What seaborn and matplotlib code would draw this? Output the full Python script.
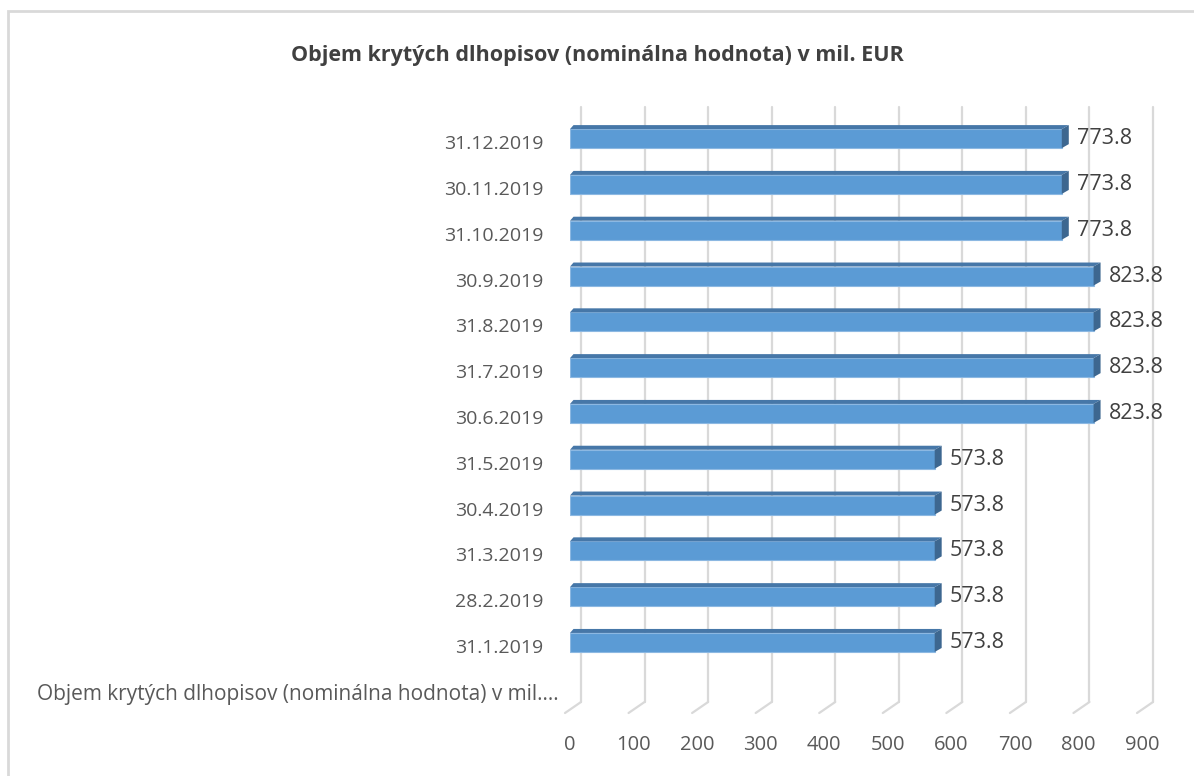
import numpy as np
import pandas as pd
import matplotlib
matplotlib.use('Agg')
import matplotlib.pyplot as plt
import matplotlib.transforms as mtransforms
from matplotlib.patches import Polygon, Rectangle
import seaborn as sns

sns.set_theme(style='white')
plt.rcParams['font.family'] = ['Open Sans', 'DejaVu Sans']

# dáta (mesačné stavy, v mil. EUR)
dates = ['31.1.2019', '28.2.2019', '31.3.2019', '30.4.2019', '31.5.2019', '30.6.2019',
         '31.7.2019', '31.8.2019', '30.9.2019', '31.10.2019', '30.11.2019', '31.12.2019']
values = [573.8, 573.8, 573.8, 573.8, 573.8, 823.8, 823.8, 823.8, 823.8, 773.8, 773.8, 773.8]
series_name = 'Objem krytých dlhopisov (nominálna hodnota) v mil.\u2026'
title = 'Objem krytých dlhopisov (nominálna hodnota) v mil. EUR'
x_ticks = [0, 100, 200, 300, 400, 500, 600, 700, 800, 900]

df = pd.DataFrame({'datum': dates, 'objem': values})
order = dates[::-1] + [series_name]   # Excel kreslí prvú kategóriu dole

fig = plt.figure(figsize=(11.94, 7.76), dpi=100)
ax = fig.add_axes([570 / 1194, 1 - 702 / 776, 572 / 1194, 595 / 776])

sns.barplot(data=df, x='objem', y='datum', order=order, orient='h',
            color='#5b9bd5', width=0.415, saturation=1, ax=ax,
            edgecolor='#8cb8e2', linewidth=0.8, zorder=3)

ax.set_xlim(0, 900)
ax.set_ylim(12.30, -0.69)

# pseudo 3D: horná a bočná stena
px_per_unit = 572 / 900
px_per_cat = 595 / (12.30 + 0.69)
dx = 7 / px_per_unit
dy = 4 / px_per_cat
for p in ax.patches:
    v = p.get_width()
    y0 = p.get_y()
    h = p.get_height()
    if not np.isfinite(v):
        continue
    top = Polygon([(0, y0), (v, y0), (v + dx, y0 - dy), (dx * 0.5, y0 - dy)],
                  closed=True, facecolor='#4677a8', edgecolor='none', zorder=3)
    side = Polygon([(v, y0), (v + dx, y0 - dy), (v + dx, y0 + h - dy), (v, y0 + h)],
                   closed=True, facecolor='#3d6790', edgecolor='none', zorder=3)
    ax.add_patch(top)
    ax.add_patch(side)

ax.bar_label(ax.containers[0], fmt='%.1f', padding=11, fontsize=15.5, color='#404040')

# mriežka na zadnej stene + šikmé čiary podlahy
grid_shift = 11 / px_per_unit
floor_dx = 16 / px_per_unit
floor_dy = 11 / 595
btrans = mtransforms.blended_transform_factory(ax.transData, ax.transAxes)
for g in x_ticks:
    gx = g + grid_shift
    ax.plot([gx, gx], [0, 1], transform=btrans, color='#d9d9d9', lw=1.6,
            zorder=1, clip_on=False)
    ax.plot([gx, gx - floor_dx], [0, -floor_dy], transform=btrans, color='#d9d9d9',
            lw=1.6, zorder=1, clip_on=False)

ax.set_xticks(x_ticks)
ax.set_xticklabels([str(t) for t in x_ticks])
ax.set_xlabel('')
ax.set_ylabel('')
ax.tick_params(axis='x', length=0, pad=24, labelsize=14.5, labelcolor='#595959')
ax.tick_params(axis='y', length=0, pad=19, labelsize=14, labelcolor='#595959')
for lab in ax.get_yticklabels():
    shift_x = 0.0
    if lab.get_text() == series_name:
        lab.set_fontsize(15)
        shift_x = 0.15
    lab.set_transform(lab.get_transform() +
                      mtransforms.ScaledTranslation(shift_x, -0.035, fig.dpi_scale_trans))
sns.despine(ax=ax, left=True, bottom=True)
ax.grid(False)

fig.text(0.5, 1 - 56 / 776, title, ha='center', va='center',
         fontsize=15.5, fontweight='bold', color='#404040')

# rámik grafu
fig.patches.append(Rectangle((8 / 1194, -0.05), 1.1, 1.05 - 11 / 776,
                             transform=fig.transFigure, fill=False,
                             edgecolor='#d9d9d9', lw=2, zorder=0))

fig.savefig('out.png', dpi=100)
